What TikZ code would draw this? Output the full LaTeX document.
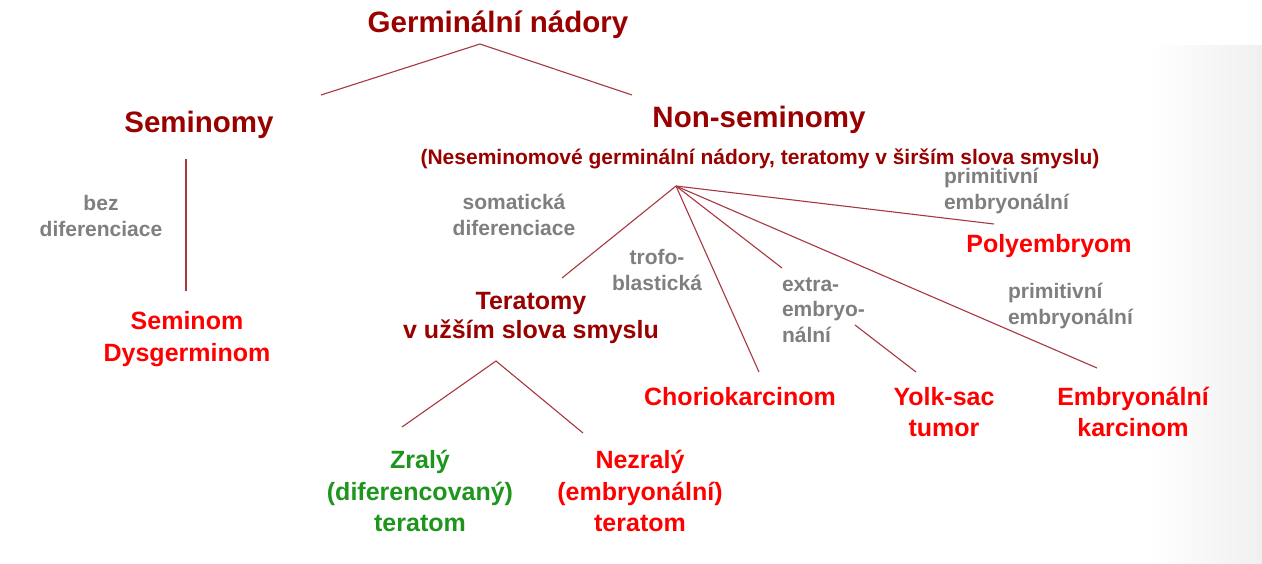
\documentclass[tikz,border=0pt]{standalone}
\usepackage{fontspec}
\setmainfont{Liberation Sans}
\definecolor{dred}{RGB}{153,0,0}
\definecolor{lred}{RGB}{168,56,64}
\definecolor{bred}{RGB}{255,0,0}
\definecolor{lgreen}{RGB}{30,150,30}
\definecolor{lgray}{RGB}{127,127,127}
\tikzset{
  every node/.style={inner sep=0pt, outer sep=0pt},
  head/.style={font=\bfseries\fontsize{29.5}{34}\selectfont, text=dred},
  subhead/.style={font=\bfseries\fontsize{21}{25}\selectfont, text=dred},
  midhead/.style={font=\bfseries\fontsize{25}{29}\selectfont, text=dred, align=center},
  leaf/.style={font=\bfseries\fontsize{25}{31.5}\selectfont, text=bred, align=center},
  gleaf/.style={font=\bfseries\fontsize{25}{31.5}\selectfont, text=lgreen, align=center},
  lab/.style={font=\bfseries\fontsize{21}{25.5}\selectfont, text=lgray},
  conn/.style={draw=lred, line width=1.1pt}
}
\begin{document}
\begin{tikzpicture}[x=1pt,y=-1pt]
\useasboundingbox (0,0) rectangle (1262,563);
\fill[white] (0,0) rectangle (1262,563);
\shade[left color=white, right color=black!6] (1150,45) rectangle (1262,563);

% headings
\node[head] (germ) at (498,25) {Germinální nádory};
\node[head] (sem) at (199,125) {Seminomy};
\node[head] (nonsem) at (759,120) {Non-seminomy};
\node[subhead] (nonsemsub) at (760,159) {(Neseminomové germinální nádory, teratomy v širším slova smyslu)};

% labels
\node[lab, align=center] (bez) at (101,216) {bez\\diferenciace};
\node[lab, align=center] (soma) at (514,215) {somatická\\diferenciace};
\node[lab, align=center] (trofo) at (657,270) {trofo-\\blastická};
\node[lab, align=left, anchor=west] (prim1) at (944,191) {primitivní\\embryonální};
\node[lab, align=left, anchor=west] (extra) at (782,310) {extra-\\embryo-\\nální};
\node[lab, align=left, anchor=west] (prim2) at (1008,306) {primitivní\\embryonální};

% leaves
\node[leaf] (seminom) at (187,339) {Seminom\\Dysgerminom};
\node[midhead] (terat) at (531,318) {Teratomy\\v užším slova smyslu};
\node[gleaf] (zraly) at (420,491) {Zralý\\(diferencovaný)\\teratom};
\node[leaf] (nezraly) at (640,491) {Nezralý\\(embryonální)\\teratom};
\node[leaf] (chorio) at (740,397) {Choriokarcinom};
\node[leaf] (yolk) at (944,412) {Yolk-sac\\tumor};
\node[leaf] (embr) at (1133,412) {Embryonální\\karcinom};
\node[leaf] (poly) at (1049,246) {Polyembryom};

% connector points
\coordinate (gtop) at (480,44);
\coordinate (gl) at (321,95);
\coordinate (gr) at (632,95);
\coordinate (st) at (186,159);
\coordinate (sb) at (186,291);
\coordinate (hub) at (676,186);
\coordinate (toTer) at (562,278);
\coordinate (toCho) at (759,372);
\coordinate (toExt) at (782,268);
\coordinate (ext2a) at (855,325);
\coordinate (ext2b) at (916,372);
\coordinate (toPol) at (994,224);
\coordinate (toEmb) at (1097,368);
\coordinate (ttop) at (496,361);
\coordinate (tl) at (402,427);
\coordinate (tr) at (583,433);

\draw[conn] (gl) -- (gtop) -- (gr);
\draw[conn] (st) -- (sb);
\draw[conn] (hub) -- (toTer);
\draw[conn] (hub) -- (toCho);
\draw[conn] (hub) -- (toExt);
\draw[conn] (ext2a) -- (ext2b);
\draw[conn] (hub) -- (toPol);
\draw[conn] (hub) -- (toEmb);
\draw[conn] (tl) -- (ttop) -- (tr);
\end{tikzpicture}
\end{document}
